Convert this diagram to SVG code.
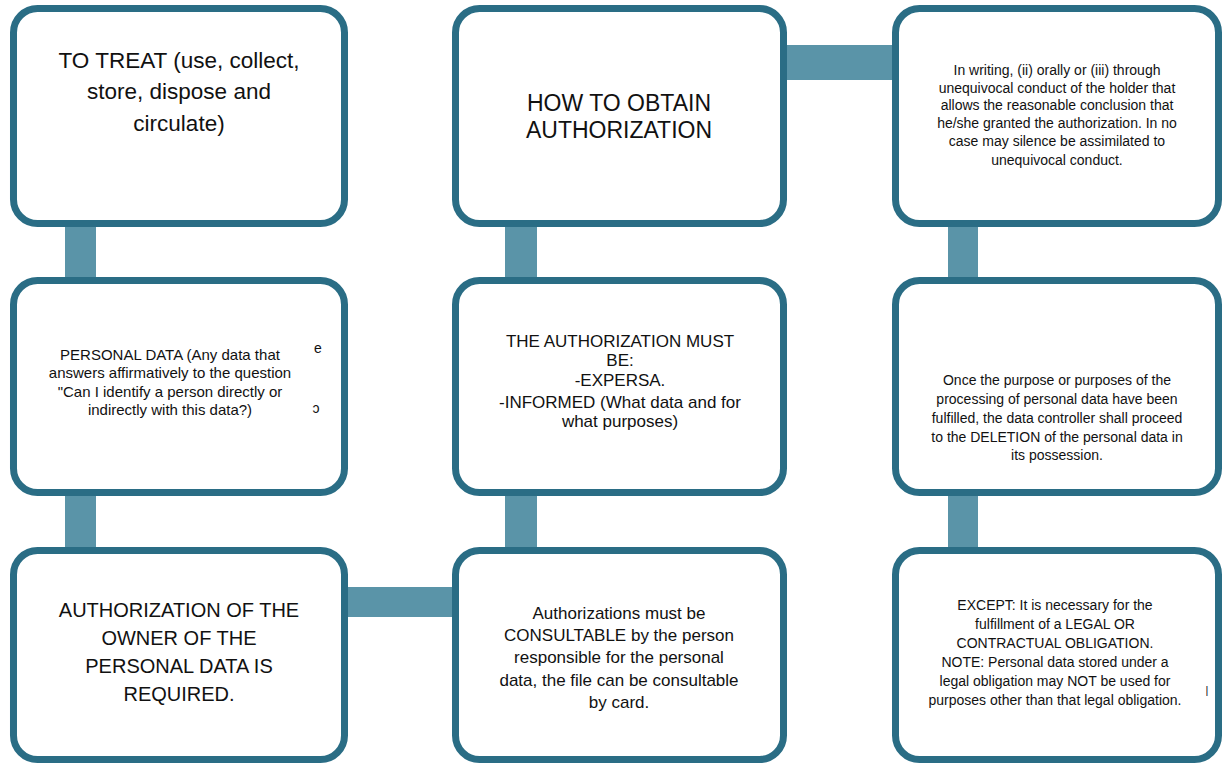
<svg xmlns="http://www.w3.org/2000/svg" width="1225" height="765" viewBox="0 0 1225 765">
<style>
.box{fill:#fff;stroke:#2a6d85;stroke-width:7}
.con{fill:#5a94a8}
text{font-family:"Liberation Sans",Arial,sans-serif;fill:#111;text-anchor:middle}
.l{font-size:22.5px}
.l2{font-size:20px}
.h{font-size:23px}
.m{font-size:17px}
.p{font-size:15px}
.s{font-size:14px}
</style>
<rect width="1225" height="765" fill="#fff"/>
<g id="connectors">
<rect class="con" x="65" y="226" width="31" height="53"/>
<rect class="con" x="65" y="494" width="31" height="55"/>
<rect class="con" x="346" y="587" width="108" height="30"/>
<rect class="con" x="505" y="226" width="32" height="53"/>
<rect class="con" x="505" y="494" width="32" height="55"/>
<rect class="con" x="785" y="45" width="109" height="35"/>
<rect class="con" x="948" y="226" width="30" height="53"/>
<rect class="con" x="948" y="494" width="30" height="55"/>
</g>
<g id="n1"><rect class="box" x="13.5" y="8.5" width="331" height="215" rx="24"/>
<text class="l" x="179" y="68">TO TREAT (use, collect,</text>
<text class="l" x="179" y="99">store, dispose and</text>
<text class="l" x="179" y="131">circulate)</text></g>
<g id="n2"><rect class="box" x="13.5" y="280.5" width="331" height="212" rx="24"/>
<text class="p" x="170" y="360">PERSONAL DATA (Any data that</text>
<text class="p" x="170" y="378">answers affirmatively to the question</text>
<text class="p" x="170" y="397">"Can I identify a person directly or</text>
<text class="p" x="170" y="415">indirectly with this data?)</text>
<text class="s" x="318" y="353">e</text>
<text class="s" x="316" y="413">ɔ</text></g>
<g id="n3"><rect class="box" x="13.5" y="550.5" width="331" height="209" rx="24"/>
<text class="l2" x="179" y="617">AUTHORIZATION OF THE</text>
<text class="l2" x="179" y="645">OWNER OF THE</text>
<text class="l2" x="179" y="673">PERSONAL DATA IS</text>
<text class="l2" x="179" y="701">REQUIRED.</text></g>
<g id="n4"><rect class="box" x="455.5" y="8.5" width="328" height="215" rx="24"/>
<text class="h" x="619" y="111">HOW TO OBTAIN</text>
<text class="h" x="619" y="138">AUTHORIZATION</text></g>
<g id="n5"><rect class="box" x="455.5" y="280.5" width="328" height="212" rx="24"/>
<text class="m" x="620" y="347">THE AUTHORIZATION MUST</text>
<text class="m" x="620" y="366">BE:</text>
<text class="m" x="620" y="386">-EXPERSA.</text>
<text class="m" x="620" y="408">-INFORMED (What data and for</text>
<text class="m" x="620" y="427">what purposes)</text></g>
<g id="n6"><rect class="box" x="455.5" y="550.5" width="328" height="209" rx="24"/>
<text class="m" x="619" y="619">Authorizations must be</text>
<text class="m" x="619" y="641">CONSULTABLE by the person</text>
<text class="m" x="619" y="663">responsible for the personal</text>
<text class="m" x="619" y="686">data, the file can be consultable</text>
<text class="m" x="619" y="708">by card.</text></g>
<g id="n7"><rect class="box" x="895.5" y="8.5" width="323" height="215" rx="24"/>
<text class="s" x="1057" y="75">In writing, (ii) orally or (iii) through</text>
<text class="s" x="1057" y="93">unequivocal conduct of the holder that</text>
<text class="s" x="1057" y="110">allows the reasonable conclusion that</text>
<text class="s" x="1057" y="128">he/she granted the authorization. In no</text>
<text class="s" x="1057" y="146">case may silence be assimilated to</text>
<text class="s" x="1057" y="165">unequivocal conduct.</text></g>
<g id="n8"><rect class="box" x="895.5" y="280.5" width="323" height="212" rx="24"/>
<text class="s" x="1057" y="385">Once the purpose or purposes of the</text>
<text class="s" x="1057" y="404">processing of personal data have been</text>
<text class="s" x="1057" y="423">fulfilled, the data controller shall proceed</text>
<text class="s" x="1057" y="442">to the DELETION of the personal data in</text>
<text class="s" x="1057" y="460">its possession.</text></g>
<g id="n9"><rect class="box" x="895.5" y="550.5" width="323" height="209" rx="24"/>
<text class="s" x="1055" y="610">EXCEPT: It is necessary for the</text>
<text class="s" x="1055" y="629">fulfillment of a LEGAL OR</text>
<text class="s" x="1055" y="648">CONTRACTUAL OBLIGATION.</text>
<text class="s" x="1055" y="667">NOTE: Personal data stored under a</text>
<text class="s" x="1055" y="686">legal obligation may NOT be used for</text>
<text class="s" x="1055" y="705">purposes other than that legal obligation.</text>
<text class="s" x="1207" y="694" style="font-size:11px">|</text></g>
</svg>
